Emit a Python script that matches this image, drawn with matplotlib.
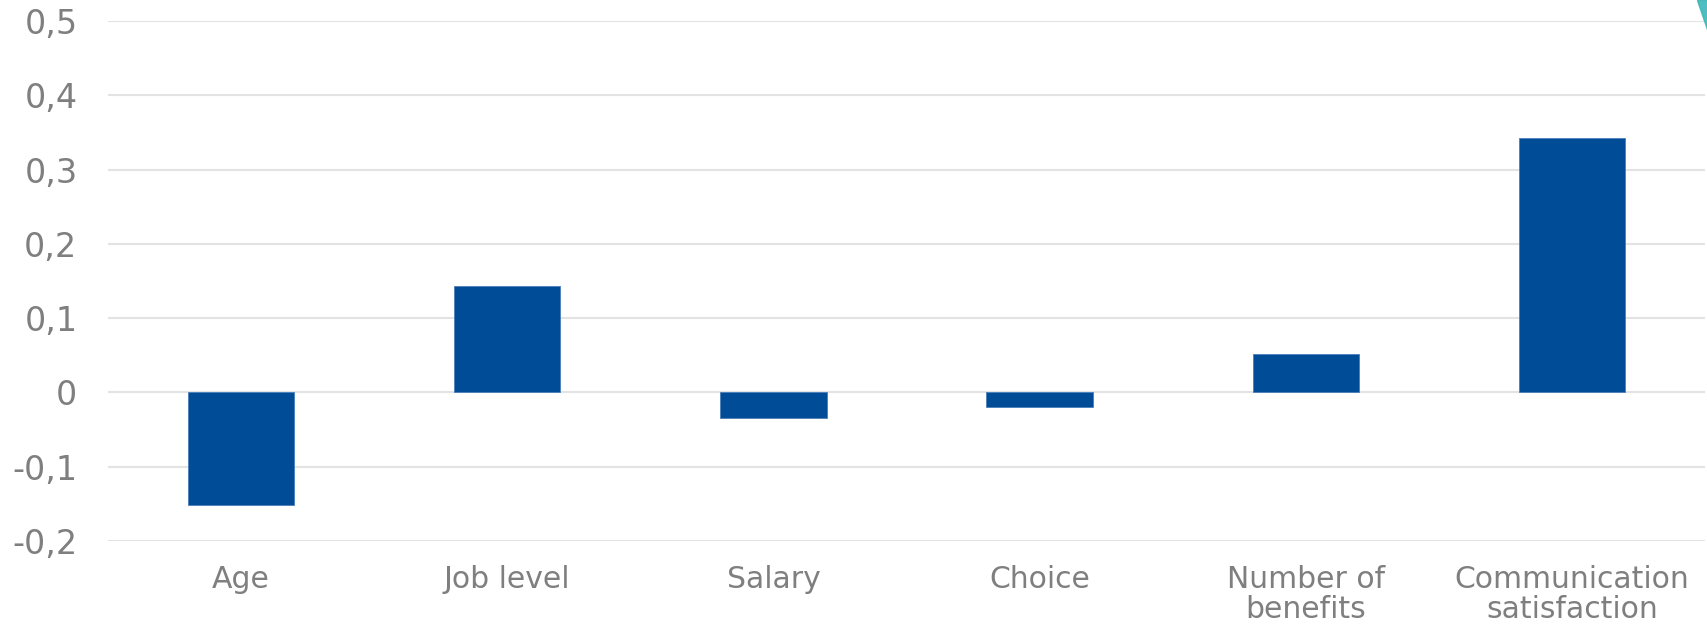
import matplotlib
matplotlib.use("Agg")
import matplotlib.pyplot as plt
from matplotlib.patches import Polygon

categories = ["Age", "Job level", "Salary", "Choice", "Number of\nbenefits", "Communication\nsatisfaction"]
values = [-0.151, 0.143, -0.035, -0.020, 0.052, 0.342]
yticks = [-0.2, -0.1, 0, 0.1, 0.2, 0.3, 0.4, 0.5]
ytick_labels = ["-0,2", "-0,1", "0", "0,1", "0,2", "0,3", "0,4", "0,5"]

bar_color = "#004C97"
text_color = "#7F7F7F"
grid_color = "#E3E3E3"

fig = plt.figure(figsize=(17.08, 6.25), dpi=100)
ax = fig.add_axes([108/1708, 1 - 541/625, (1705 - 108)/1708, (541 - 21)/625])

x = list(range(len(categories)))
ax.bar(x, values, width=0.4, color=bar_color, zorder=3,
       edgecolor="#4A7DB8", linewidth=0.6)

ax.set_xlim(-0.5, len(categories) - 0.5)
ax.set_ylim(-0.2, 0.5)
ax.set_yticks(yticks)
ax.set_yticklabels(ytick_labels)
ax.set_xticks(x)
ax.set_xticklabels(categories, linespacing=1.05)

ax.grid(axis="y", color=grid_color, linewidth=1.5, zorder=0)
ax.grid(axis="x", visible=False)
for s in ax.spines.values():
    s.set_visible(False)
ax.tick_params(axis="y", length=0, pad=22, labelsize=24, labelcolor=text_color)
ax.tick_params(axis="x", length=0, pad=17, labelsize=21.5, labelcolor=text_color)

# decorative teal corner shape
tri = Polygon([[1697/1708, 1.0], [1708/1708, 1.0], [1708/1708, 1 - 32/625]],
              closed=True, transform=fig.transFigure, color="#3DB7B9",
              alpha=0.9, zorder=5)
fig.patches.append(tri)

fig.savefig("out.png", dpi=100, facecolor="white")
